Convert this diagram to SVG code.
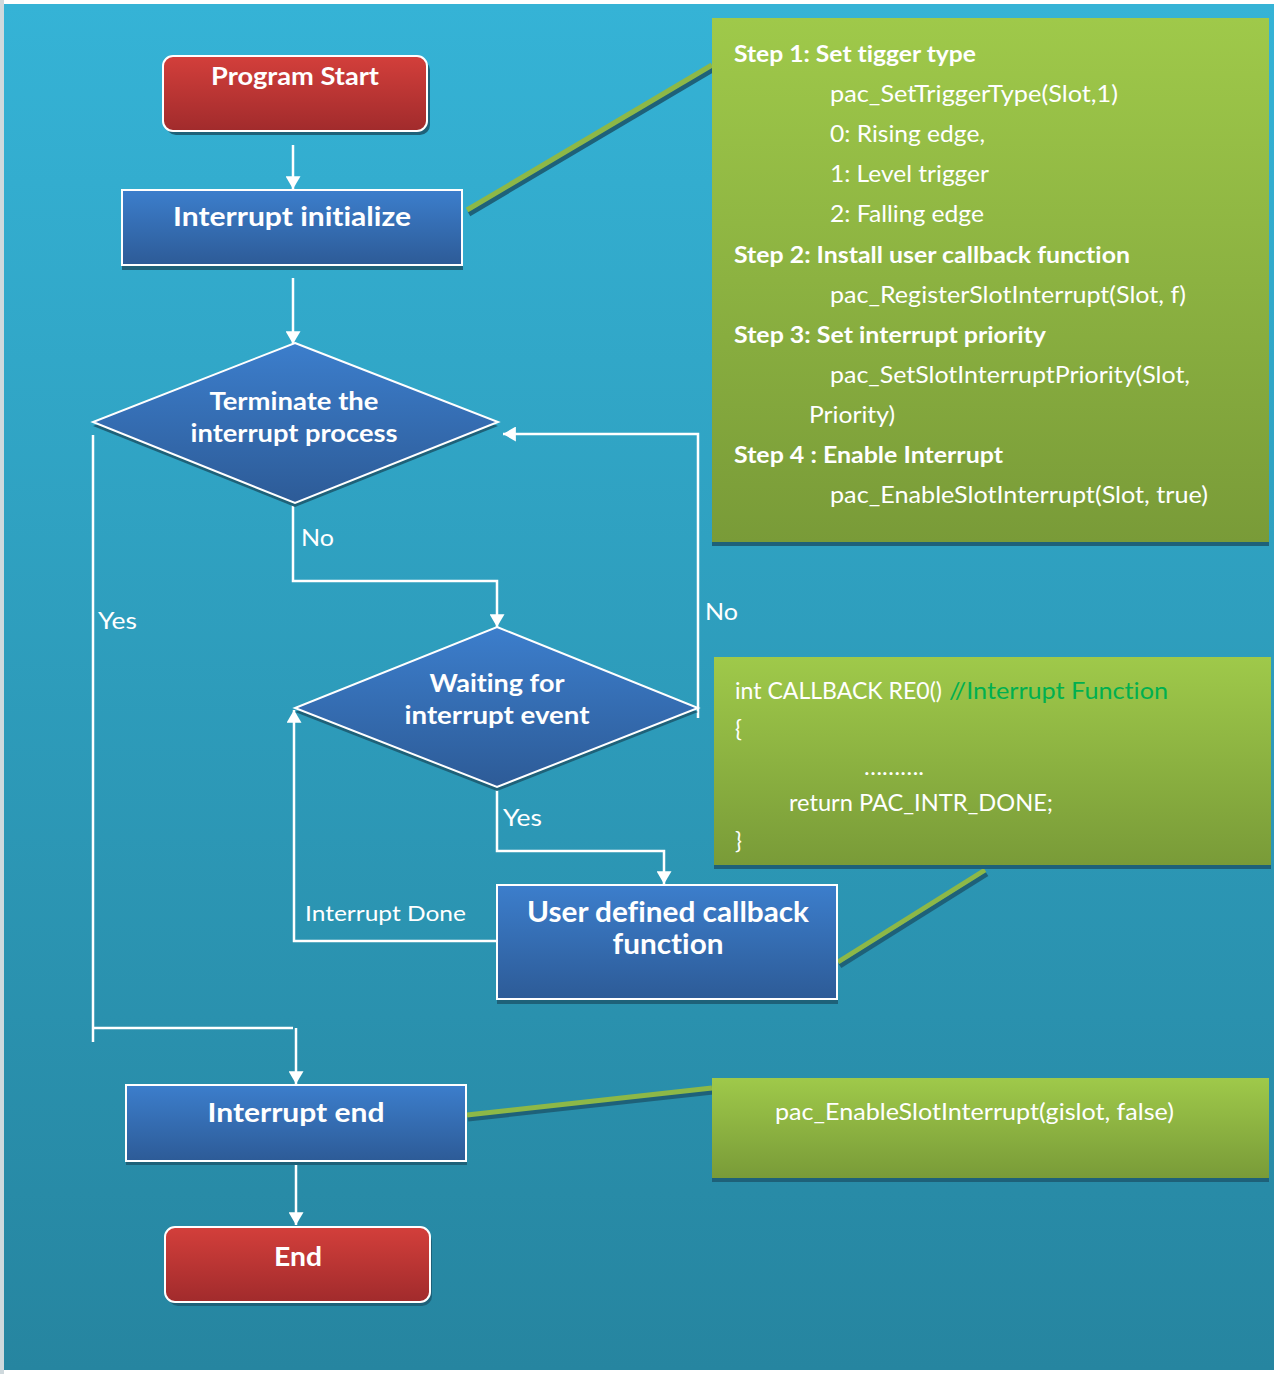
<svg xmlns="http://www.w3.org/2000/svg" width="1276" height="1374" viewBox="0 0 1276 1374">
<defs>
<linearGradient id="bg" x1="0" y1="0" x2="0" y2="1">
<stop offset="0" stop-color="#35B3D6"/><stop offset="1" stop-color="#2685A0"/>
</linearGradient>
<linearGradient id="red" x1="0" y1="0" x2="0" y2="1">
<stop offset="0" stop-color="#D33F3B"/><stop offset="1" stop-color="#A12B2C"/>
</linearGradient>
<linearGradient id="blue" x1="0" y1="0" x2="0" y2="1">
<stop offset="0" stop-color="#3C7ECC"/><stop offset="1" stop-color="#2D5B97"/>
</linearGradient>
<linearGradient id="green" x1="0" y1="0" x2="0" y2="1">
<stop offset="0" stop-color="#9FC94A"/><stop offset="1" stop-color="#799B38"/>
</linearGradient>
<marker id="ah" viewBox="0 0 12 14" refX="12" refY="7" markerWidth="13" markerHeight="15" markerUnits="userSpaceOnUse" orient="auto">
<path d="M0,0 L12,7 L0,14 Z" fill="#FFFFFF"/>
</marker>
<style>
.sh{fill:#1E6179;}
.node{stroke:#FFFFFF;stroke-width:2;}
.t{font-family:Lato,"Open Sans","Liberation Sans",sans-serif;fill:#FFFFFF;font-variant-ligatures:none;}
.b{font-weight:bold;}
.c{stroke:#FFFFFF;stroke-width:2.5;fill:none;}
.lk{stroke:#8DB847;stroke-width:5;fill:none;}
.lks{stroke:#1E6179;stroke-width:5;fill:none;}
.g{fill:url(#green);}
</style>
</defs>
<rect x="0" y="0" width="1276" height="1374" fill="#FFFFFF"/>
<rect x="0" y="0" width="4" height="1374" fill="#CFD9DD"/>
<rect x="4" y="4" width="1270" height="1366" fill="url(#bg)"/>

<g id="links">
<line class="lks" x1="469" y1="214" x2="714" y2="69"/>
<line class="lk" x1="467" y1="210" x2="712" y2="65"/>
<line class="lks" x1="840" y1="966" x2="987" y2="874"/>
<line class="lk" x1="838" y1="962" x2="985" y2="870"/>
<line class="lks" x1="468" y1="1119" x2="713" y2="1092"/>
<line class="lk" x1="467" y1="1115" x2="712" y2="1088"/>
</g>

<g id="connectors">
<line class="c" x1="293" y1="145" x2="293" y2="189" marker-end="url(#ah)"/>
<line class="c" x1="293" y1="278" x2="293" y2="344" marker-end="url(#ah)"/>
<polyline class="c" points="293,505 293,581 497,581 497,627" marker-end="url(#ah)"/>
<polyline class="c" points="698,718 698,434 503,434" marker-end="url(#ah)"/>
<polyline class="c" points="497,788 497,851 664,851 664,884" marker-end="url(#ah)"/>
<polyline class="c" points="497,941 294,941 294,710" marker-end="url(#ah)"/>
<polyline class="c" points="93,435 93,1042"/>
<line class="c" x1="93" y1="1028" x2="293" y2="1028"/>
<line class="c" x1="296" y1="1028" x2="296" y2="1084" marker-end="url(#ah)"/>
<line class="c" x1="296" y1="1163" x2="296" y2="1225" marker-end="url(#ah)"/>
<text class="t" x="301" y="546" font-size="23" textLength="33" lengthAdjust="spacingAndGlyphs">No</text>
<text class="t" x="98" y="629" font-size="23" textLength="39" lengthAdjust="spacingAndGlyphs">Yes</text>
<text class="t" x="705" y="620" font-size="23" textLength="33" lengthAdjust="spacingAndGlyphs">No</text>
<text class="t" x="503" y="826" font-size="23" textLength="39" lengthAdjust="spacingAndGlyphs">Yes</text>
<text class="t" x="305" y="921" font-size="22" textLength="161" lengthAdjust="spacingAndGlyphs">Interrupt Done</text>
</g>

<g id="program-start">
<rect class="sh" x="166" y="60" width="264" height="75" rx="10"/>
<rect class="node" x="163" y="56" width="264" height="75" rx="10" fill="url(#red)"/>
<text class="t b" x="295" y="85" font-size="24" text-anchor="middle" textLength="168" lengthAdjust="spacingAndGlyphs">Program Start</text>
</g>

<g id="interrupt-initialize">
<rect class="sh" x="122" y="194" width="341" height="76"/>
<rect class="node" x="122" y="190" width="340" height="75" fill="url(#blue)" stroke-width="1.5"/>
<text class="t b" x="292" y="226" font-size="27" text-anchor="middle" textLength="238" lengthAdjust="spacingAndGlyphs">Interrupt initialize</text>
</g>

<g id="terminate-decision">
<polygon class="sh" points="295,347 498,426 295,507 93,426"/>
<polygon class="node" points="295,343 498,422 295,503 93,422" fill="url(#blue)"/>
<text class="t b" x="294" y="410" font-size="25" text-anchor="middle" textLength="169" lengthAdjust="spacingAndGlyphs">Terminate the</text>
<text class="t b" x="294" y="442" font-size="25" text-anchor="middle" textLength="207" lengthAdjust="spacingAndGlyphs">interrupt process</text>
</g>

<g id="waiting-decision">
<polygon class="sh" points="497,631 698,712 497,791 295,712"/>
<polygon class="node" points="497,627 698,708 497,787 295,708" fill="url(#blue)"/>
<text class="t b" x="497" y="692" font-size="25" text-anchor="middle" textLength="135" lengthAdjust="spacingAndGlyphs">Waiting for</text>
<text class="t b" x="497" y="724" font-size="25" text-anchor="middle" textLength="185" lengthAdjust="spacingAndGlyphs">interrupt event</text>
</g>

<g id="user-callback">
<rect class="sh" x="497" y="889" width="341" height="115"/>
<rect class="node" x="497" y="885" width="340" height="114" fill="url(#blue)"/>
<text class="t b" x="668" y="922" font-size="28" text-anchor="middle" textLength="282" lengthAdjust="spacingAndGlyphs">User defined callback</text>
<text class="t b" x="668" y="954" font-size="28" text-anchor="middle" textLength="111" lengthAdjust="spacingAndGlyphs">function</text>
</g>

<g id="interrupt-end">
<rect class="sh" x="126" y="1089" width="341" height="76"/>
<rect class="node" x="126" y="1085" width="340" height="76" fill="url(#blue)" stroke-width="1.5"/>
<text class="t b" x="296" y="1122" font-size="27" text-anchor="middle" textLength="177" lengthAdjust="spacingAndGlyphs">Interrupt end</text>
</g>

<g id="end">
<rect class="sh" x="168" y="1231" width="264" height="75" rx="10"/>
<rect class="node" x="165" y="1227" width="265" height="75" rx="10" fill="url(#red)"/>
<text class="t b" x="298" y="1266" font-size="27" text-anchor="middle" textLength="48" lengthAdjust="spacingAndGlyphs">End</text>
</g>

<g id="init-steps">
<rect class="sh" x="712" y="22" width="557" height="524"/>
<rect class="g" x="712" y="18" width="557" height="524"/>
<text class="t b" x="734" y="62" font-size="23" textLength="242" lengthAdjust="spacingAndGlyphs">Step 1: Set tigger type</text>
<text class="t" x="830" y="102" font-size="23" textLength="288" lengthAdjust="spacingAndGlyphs">pac_SetTriggerType(Slot,1)</text>
<text class="t" x="830" y="142" font-size="23" textLength="155" lengthAdjust="spacingAndGlyphs">0: Rising edge,</text>
<text class="t" x="830" y="182" font-size="23" textLength="159" lengthAdjust="spacingAndGlyphs">1: Level trigger</text>
<text class="t" x="830" y="222" font-size="23" textLength="154" lengthAdjust="spacingAndGlyphs">2: Falling edge</text>
<text class="t b" x="734" y="263" font-size="23" textLength="396" lengthAdjust="spacingAndGlyphs">Step 2: Install user callback function</text>
<text class="t" x="830" y="303" font-size="23" textLength="356" lengthAdjust="spacingAndGlyphs">pac_RegisterSlotInterrupt(Slot, f)</text>
<text class="t b" x="734" y="343" font-size="23" textLength="312" lengthAdjust="spacingAndGlyphs">Step 3: Set interrupt priority</text>
<text class="t" x="830" y="383" font-size="23" textLength="360" lengthAdjust="spacingAndGlyphs">pac_SetSlotInterruptPriority(Slot,</text>
<text class="t" x="809" y="423" font-size="23" textLength="86" lengthAdjust="spacingAndGlyphs">Priority)</text>
<text class="t b" x="734" y="463" font-size="23" textLength="269" lengthAdjust="spacingAndGlyphs">Step 4 : Enable Interrupt</text>
<text class="t" x="830" y="503" font-size="23" textLength="378" lengthAdjust="spacingAndGlyphs">pac_EnableSlotInterrupt(Slot, true)</text>
</g>

<g id="callback-code">
<rect class="sh" x="714" y="661" width="557" height="208"/>
<rect class="g" x="714" y="657" width="557" height="208"/>
<text class="t" x="735" y="699" font-size="23" textLength="207" lengthAdjust="spacingAndGlyphs">int CALLBACK RE0()</text>
<text class="t" x="949" y="699" font-size="23" style="fill:#00B050" textLength="219" lengthAdjust="spacingAndGlyphs">//Interrupt Function</text>
<text class="t" x="735" y="737" font-size="23">{</text>
<text class="t" x="864" y="775" font-size="23" textLength="60" lengthAdjust="spacingAndGlyphs">……….</text>
<text class="t" x="789" y="811" font-size="23" textLength="264" lengthAdjust="spacingAndGlyphs">return PAC_INTR_DONE;</text>
<text class="t" x="735" y="849" font-size="23">}</text>
</g>

<g id="end-code">
<rect class="sh" x="712" y="1082" width="557" height="100"/>
<rect class="g" x="712" y="1078" width="557" height="100"/>
<text class="t" x="775" y="1120" font-size="23" textLength="399" lengthAdjust="spacingAndGlyphs">pac_EnableSlotInterrupt(gislot, false)</text>
</g>
</svg>
